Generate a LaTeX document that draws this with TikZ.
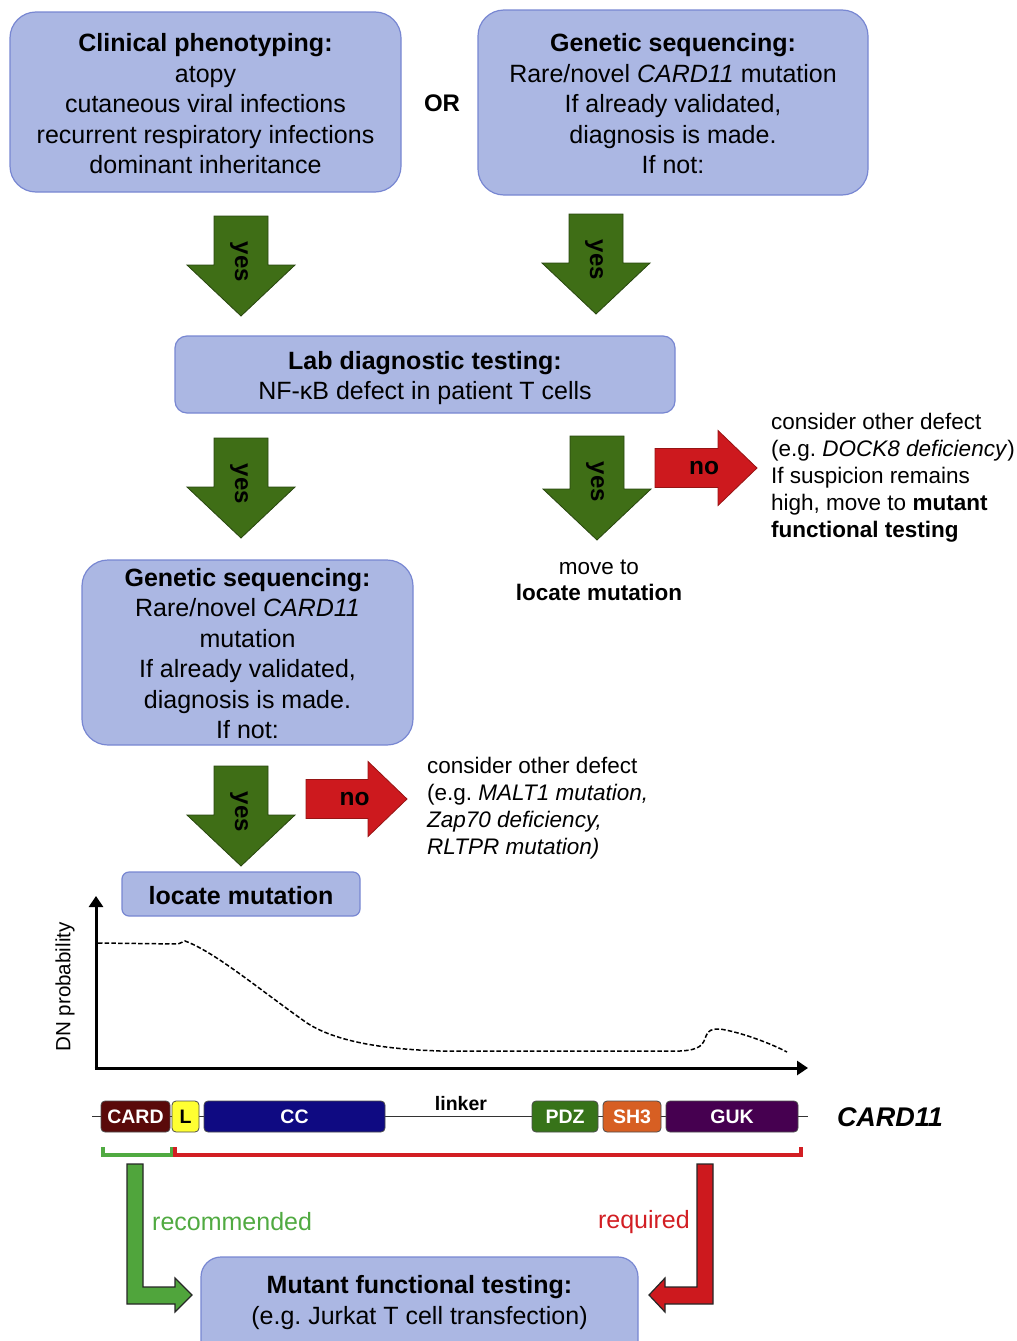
\documentclass[tikz,border=0pt]{standalone}
\usepackage{fontspec}
\setmainfont{Liberation Sans}
\usetikzlibrary{arrows.meta}
\definecolor{boxfill}{RGB}{171,183,227}
\definecolor{boxline}{RGB}{120,135,210}
\definecolor{yesfill}{RGB}{63,110,22}
\definecolor{yesline}{RGB}{40,70,15}
\definecolor{nofill}{RGB}{205,25,30}
\definecolor{noline}{RGB}{150,20,20}
\definecolor{recgreen}{RGB}{80,170,65}
\definecolor{recarrow}{RGB}{80,165,60}
\definecolor{reqred}{RGB}{210,30,35}
\definecolor{cardc}{RGB}{90,10,10}
\definecolor{lc}{RGB}{255,255,50}
\definecolor{ccc}{RGB}{15,10,130}
\definecolor{pdzc}{RGB}{55,115,25}
\definecolor{sh3c}{RGB}{215,95,35}
\definecolor{gukc}{RGB}{70,0,80}
\newcommand\yesarr[4]{%
  \draw[yesshape] (#2-27,#3) -- (#2+27,#3) -- (#2+27,#4-51) -- (#2+54,#4-51)
    -- (#2,#4) -- (#2-54,#4-51) -- (#2-27,#4-51) -- cycle;
  \node[yestext] (#1) at (#2-2,#3+46) {yes};}
\newcommand\noarr[4]{%
  \draw[noshape] (#2,#3-19.5) -- (#4-39,#3-19.5) -- (#4-39,#3-37.5) -- (#4,#3)
    -- (#4-39,#3+37.5) -- (#4-39,#3+19.5) -- (#2,#3+19.5) -- cycle;
  \node[notext] (#1) at ({(#2+#4)/2-2},#3) {no};}
\begin{document}
\frenchspacing
\begin{tikzpicture}[x=1pt,y=-1pt,
  bigbox/.style={draw=boxline,fill=boxfill,line width=1.2pt,rounded corners=26pt,inner sep=0pt},
  boxtext/.style={align=center,inner sep=0pt,font=\fontsize{25}{30.5}\selectfont},
  yesshape/.style={draw=yesline,fill=yesfill,line width=0.8pt},
  noshape/.style={draw=noline,fill=nofill,line width=0.8pt},
  yestext/.style={rotate=-90,font=\bfseries\fontsize{24}{28}\selectfont,inner sep=0pt},
  notext/.style={font=\bfseries\fontsize{24.5}{28}\selectfont,inner sep=0pt},
  sidetext/.style={align=left,anchor=west,inner sep=0pt,font=\fontsize{22.5}{27}\selectfont},
  dom/.style={draw=black!70,line width=0.8pt,rounded corners=4pt,minimum height=31pt,
    inner sep=0pt,font=\bfseries\fontsize{19.5}{22}\selectfont,text=white},
  axis/.style={line width=3pt,-{Triangle[length=11pt,width=14pt]}},
  lshape/.style={draw=black!85,line width=1.2pt}]
\useasboundingbox (0,0) rectangle (1017,1341);
\clip (0,0) rectangle (1017,1341);

% top boxes
\node[bigbox,minimum width=391pt,minimum height=180pt] (clin) at (205.5,102) {};
\node[boxtext] (clint) at (205.5,104)
  {\textbf{Clinical phenotyping:}\\atopy\\cutaneous viral infections\\recurrent respiratory infections\\dominant inheritance};
\node[bigbox,minimum width=390pt,minimum height=185pt] (gen1) at (673,102.5) {};
\node[boxtext] (gen1t) at (673,104)
  {\textbf{Genetic sequencing:}\\Rare/novel \textit{CARD11} mutation\\If already validated,\\diagnosis is made.\\If not:};
\node[font=\bfseries\fontsize{24}{28}\selectfont,inner sep=0pt] (or) at (442,103) {OR};

\yesarr{y1}{241}{216}{316}
\yesarr{y2}{596}{214}{314}

\node[bigbox,rounded corners=12pt,minimum width=500pt,minimum height=77pt] (lab) at (425,374.5) {};
\node[boxtext] (labt) at (425,378)
  {\textbf{Lab diagnostic testing:}\\NF-κB defect in patient T cells};

\yesarr{y3}{241}{438}{538}
\yesarr{y4}{597}{436}{540}
\noarr{n1}{655}{468}{757}

\node[sidetext] (other1) at (771,477.5)
  {consider other defect\\(e.g. \textit{DOCK8 deficiency})\\If suspicion remains\\high, move to \textbf{mutant}\\\textbf{functional testing}};
\node[align=center,inner sep=0pt,font=\fontsize{22.5}{26.5}\selectfont] (move) at (599,580.5)
  {move to\\\textbf{locate mutation}};

\node[bigbox,minimum width=331pt,minimum height=185pt] (gen2) at (247.5,652.5) {};
\node[boxtext] (gen2t) at (247.5,653.5)
  {\textbf{Genetic sequencing:}\\Rare/novel \textit{CARD11}\\mutation\\If already validated,\\diagnosis is made.\\If not:};

\yesarr{y5}{241}{766}{866}
\noarr{n2}{306}{799}{407}
\node[sidetext] (other2) at (427,808.5)
  {consider other defect\\(e.g. \textit{MALT1 mutation,}\\\textit{Zap70 deficiency,}\\\textit{RLTPR mutation)}};

\node[bigbox,rounded corners=7pt,minimum width=238pt,minimum height=44pt] (loc) at (241,894) {};
\node[boxtext] (loct) at (241,896) {\textbf{locate mutation}};

% plot
\draw[axis] (96,1069.5) -- (96,896);
\draw[axis] (94.5,1068) -- (808,1068);
\node[rotate=90,inner sep=0pt,font=\fontsize{20.6}{24}\selectfont] (dn) at (65,987) {DN probability};
\draw[line width=1.5pt,dash pattern=on 4.5pt off 2.2pt] (98,943) -- (178,944) -- (185,941)
  .. controls (215,952) and (260,990) .. (307,1023)
  .. controls (335,1041) and (380,1049) .. (440,1051)
  -- (680,1051) .. controls (700,1050) and (703,1045) .. (706,1036)
  .. controls (708,1030) and (712,1029) .. (720,1029)
  .. controls (740,1032) and (770,1043) .. (787,1052);

% domain bar
\draw[line width=0.8pt,black!80] (92,1116) -- (808,1116);
\node[dom,fill=cardc,minimum width=69pt] (card) at (135.5,1116.5) {CARD};
\node[dom,fill=lc,text=black,minimum width=27pt] (l) at (185.5,1116.5) {L};
\node[dom,fill=ccc,minimum width=181pt] (cc) at (294.5,1116.5) {CC};
\node[dom,fill=pdzc,minimum width=66pt] (pdz) at (565,1116.5) {PDZ};
\node[dom,fill=sh3c,minimum width=58pt] (sh3) at (632,1116.5) {SH3};
\node[dom,fill=gukc,minimum width=132pt] (guk) at (732,1116.5) {GUK};
\node[inner sep=0pt,font=\bfseries\fontsize{19.5}{22}\selectfont] (linker) at (461,1104) {linker};
\node[inner sep=0pt,font=\bfseries\itshape\fontsize{27}{30}\selectfont] (gene) at (890,1117) {CARD11};

% brackets
\draw[recgreen,line width=3.3pt] (103,1147) -- (103,1155) -- (172,1155) -- (172,1147);
\draw[reqred,line width=3.3pt] (175,1147) -- (175,1155) -- (801,1155) -- (801,1147);

% L arrows
\draw[lshape,fill=recarrow] (127,1164) -- (143,1164) -- (143,1287) -- (175,1287) -- (175,1278)
  -- (192,1295) -- (175,1312) -- (175,1304) -- (127,1304) -- cycle;
\draw[lshape,fill=nofill] (697,1164) -- (713,1164) -- (713,1304) -- (665,1304) -- (665,1312)
  -- (649,1295) -- (665,1278) -- (665,1287) -- (697,1287) -- cycle;
\node[anchor=west,inner sep=0pt,text=recgreen,font=\fontsize{25}{30}\selectfont] (rec) at (152,1222) {recommended};
\node[anchor=east,inner sep=0pt,text=reqred,font=\fontsize{25}{30}\selectfont] (req) at (690,1222) {required};

% mutant box
\node[bigbox,rounded corners=20pt,minimum width=437pt,minimum height=110pt] (mut) at (419.5,1312) {};
\node[boxtext] (mutt) at (419.5,1302.5)
  {\textbf{Mutant functional testing:}\\(e.g. Jurkat T cell transfection)};
\end{tikzpicture}
\end{document}
